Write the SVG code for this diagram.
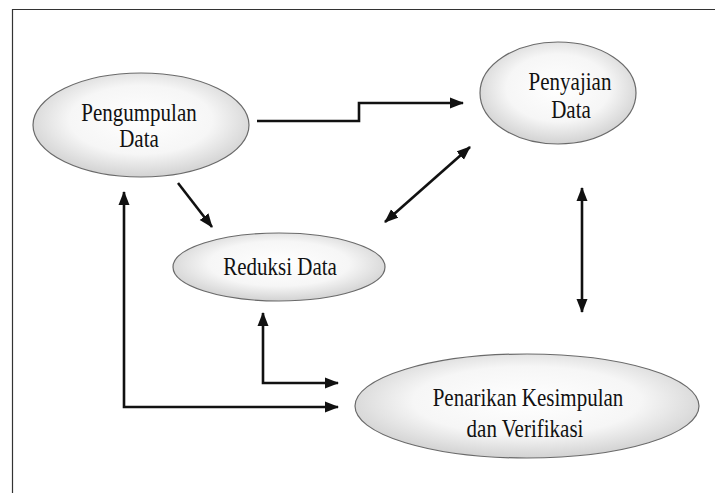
<svg xmlns="http://www.w3.org/2000/svg" width="715" height="493" viewBox="0 0 715 493">
<style>
.node ellipse{fill:url(#g);stroke:#6a6a6a;stroke-width:1.2}
.lbl{font-size:21px;fill:#111;text-anchor:middle}
.conn path{fill:none;stroke:#111;stroke-width:2.6;marker-end:url(#ah)}
.conn path.both{marker-start:url(#ah)}
</style>
<defs>
<radialGradient id="g" cx="50%" cy="45%" r="55%">
<stop offset="0" stop-color="#ffffff"/>
<stop offset="0.6" stop-color="#f6f6f6"/>
<stop offset="1" stop-color="#d2d2d2"/>
</radialGradient>
<marker id="ah" markerUnits="userSpaceOnUse" markerWidth="14" markerHeight="12" refX="13" refY="5.5" orient="auto-start-reverse" viewBox="0 0 14 11">
<path d="M0,0 L14,5.5 L0,11 z" fill="#111"/>
</marker>
</defs>
<rect width="715" height="493" fill="#fff"/>
<path d="M12.5,493 V9.5 H715" fill="none" stroke="#333" stroke-width="1.2"/>
<g id="pengumpulan" class="node" font-family="Liberation Serif, DejaVu Serif, serif">
<ellipse cx="141" cy="125" rx="108" ry="52"/>
<text class="lbl" transform="translate(139,121) scale(1,1.2)">Pengumpulan</text>
<text class="lbl" transform="translate(139,147) scale(1,1.2)">Data</text>
</g>
<g id="penyajian" class="node" font-family="Liberation Serif, DejaVu Serif, serif">
<ellipse cx="558" cy="93" rx="78" ry="51"/>
<text class="lbl" transform="translate(570,90) scale(1,1.2)">Penyajian</text>
<text class="lbl" transform="translate(571,118) scale(1,1.2)">Data</text>
</g>
<g id="reduksi" class="node" font-family="Liberation Serif, DejaVu Serif, serif">
<ellipse cx="279" cy="267" rx="106" ry="34"/>
<text class="lbl" transform="translate(280,275) scale(1,1.2)">Reduksi Data</text>
</g>
<g id="penarikan" class="node" font-family="Liberation Serif, DejaVu Serif, serif">
<ellipse cx="527" cy="406" rx="172" ry="52"/>
<text class="lbl" transform="translate(528,406) scale(1,1.2)">Penarikan Kesimpulan</text>
<text class="lbl" transform="translate(525,437) scale(1,1.2)">dan Verifikasi</text>
</g>
<g id="connectors" class="conn">
<path d="M257,121 H359 V103 H463"/>
<path d="M178,183 L212,227"/>
<path class="both" d="M385,222 L470,147"/>
<path class="both" d="M582,188 V312"/>
<path class="both" d="M263,313 V383 H338"/>
<path class="both" d="M124,192 V407 H338"/>
</g>
</svg>
